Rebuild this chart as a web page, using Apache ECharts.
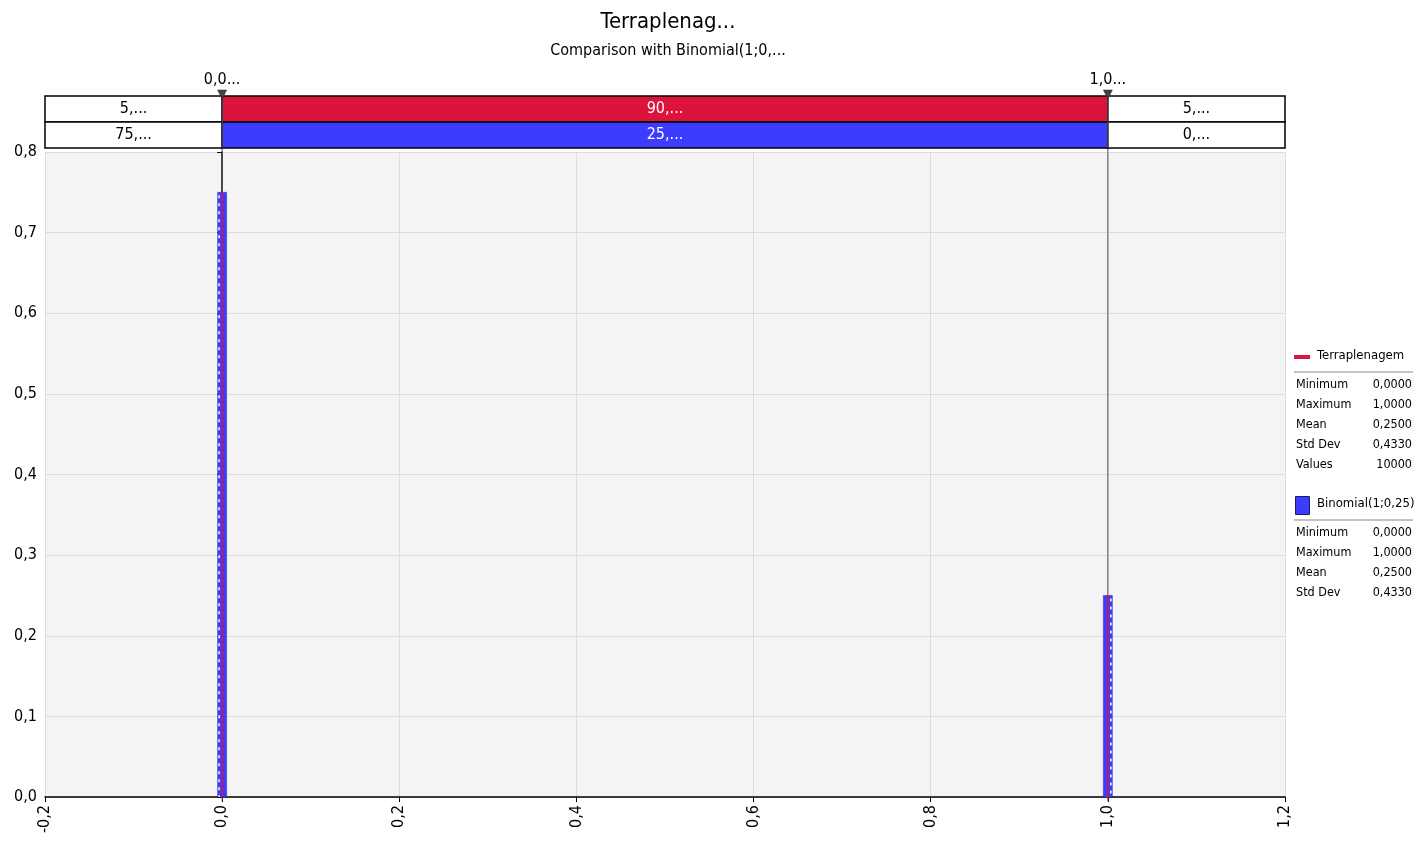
<!DOCTYPE html>
<html>
<head>
<meta charset="utf-8">
<title>Terraplenagem</title>
<script src="https://cdn.jsdelivr.net/npm/echarts@6/dist/echarts.min.js"></script>
<style>
  html, body { margin: 0; padding: 0; background: #fff; }
  #chart { width: 1417px; height: 844px; }
</style>
</head>
<body>
<div id="chart"></div>
<script>
// values
var xValues = [0, 1];
var simValues = [0.75, 0.25];      // Terraplenagem
var binomValues = [0.75, 0.25];    // Binomial(1;0,25)
var delimiters = [0, 1];
var delimiterLabels = ['0,0...', '1,0...'];
var simBandLabels = ['5,...', '90,...', '5,...'];
var binomBandLabels = ['75,...', '25,...', '0,...'];
var statNames = ['Minimum', 'Maximum', 'Mean', 'Std Dev', 'Values'];
var simStats = ['0,0000', '1,0000', '0,2500', '0,4330', '10000'];
var binomStats = ['0,0000', '1,0000', '0,2500', '0,4330'];

var RED = '#dc143c';
var BLUE = '#3c3cff';
var FONT = '"DejaVu Sans Condensed", "DejaVu Sans", sans-serif';
var X_MIN = -0.2, X_MAX = 1.2;

var fmt = function (v) { return (Math.round(v * 10) / 10).toFixed(1).replace('.', ','); };

// band cells: [start, end, row, label, column]
var bandCells = [];
[simBandLabels, binomBandLabels].forEach(function (labels, row) {
    var edges = [X_MIN, delimiters[0], delimiters[1], X_MAX];
    labels.forEach(function (l, i) {
        bandCells.push([edges[i], edges[i + 1], row, l, i]);
    });
});

var chart = echarts.init(document.getElementById('chart'));

function legendBlock(top, name, stats, isLine) {
    var els = [];
    if (isLine) {
        els.push({ type: 'rect', left: 1294, top: top - 2, shape: { width: 16, height: 4 }, style: { fill: RED } });
    } else {
        els.push({ type: 'rect', left: 1295, top: top - 9, shape: { width: 14, height: 18 }, style: { fill: BLUE, stroke: '#1a1a66', lineWidth: 1 } });
    }
    els.push({ type: 'text', left: 1317, top: top - 8, style: { text: name, font: '13px ' + FONT, fill: '#000' } });
    els.push({ type: 'line', shape: { x1: 1294, y1: top + 15, x2: 1413, y2: top + 15 }, style: { stroke: '#888', lineWidth: 1 } });
    stats.forEach(function (s, i) {
        var y = top + 21 + i * 20;
        els.push({ type: 'text', left: 1296, top: y, style: { text: statNames[i], font: '12.5px ' + FONT, fill: '#000' } });
        els.push({ type: 'text', right: 5, top: y, style: { text: s, font: '12.5px ' + FONT, fill: '#000', align: 'right' } });
    });
    return els;
}

var option = {
    animation: false,
    textStyle: { fontFamily: FONT },
    title: {
        text: 'Terraplenag...',
        subtext: 'Comparison with Binomial(1;0,...',
        left: 663,
        textAlign: 'center',
        top: 6,
        itemGap: 10,
        textStyle: { fontSize: 22, fontWeight: 'normal', color: '#000', fontFamily: FONT },
        subtextStyle: { fontSize: 16, color: '#000', fontFamily: FONT }
    },
    grid: [
        { left: 45, right: 132, top: 152, bottom: 47, show: true, backgroundColor: '#f4f4f4', borderWidth: 0 },
        { left: 45, right: 132, top: 96, height: 52 }
    ],
    xAxis: [{
        type: 'value', gridIndex: 0, min: X_MIN, max: X_MAX, interval: 0.2,
        axisLine: { show: true, onZero: false, lineStyle: { color: '#000', width: 1.5 } },
        axisTick: { show: true, length: 5, lineStyle: { color: '#000' } },
        axisLabel: { rotate: 90, fontSize: 16, color: '#000', margin: 8, formatter: fmt },
        splitLine: { show: true, lineStyle: { color: '#dcdcdc' } }
    }, {
        type: 'value', gridIndex: 1, min: X_MIN, max: X_MAX, show: false
    }],
    yAxis: [{
        type: 'value', gridIndex: 0, min: 0, max: 0.8, interval: 0.1,
        axisLine: { show: true, lineStyle: { color: '#000', width: 1.5 } },
        axisTick: { show: true, length: 5, lineStyle: { color: '#000' } },
        axisLabel: { fontSize: 16, color: '#000', margin: 8, formatter: fmt },
        splitLine: { show: true, lineStyle: { color: '#dcdcdc' } }
    }, {
        type: 'category', gridIndex: 1, data: ['sim', 'binom'], inverse: true, show: false
    }],
    graphic: legendBlock(357, 'Terraplenagem', simStats, true)
        .concat(legendBlock(505, 'Binomial(1;0,25)', binomStats, false)),
    series: [{
        name: 'delimiterLines',
        type: 'custom',
        xAxisIndex: 0, yAxisIndex: 0,
        z: 1,
        clip: false,
        data: delimiters.map(function (d) { return [d]; }),
        renderItem: function (params, api) {
            var b = api.coord([api.value(0), 0]);
            var t = api.coord([api.value(0), 0.8]);
            return { type: 'line', shape: { x1: b[0], y1: b[1] + 4, x2: t[0], y2: t[1] - 5 }, style: { stroke: '#555', lineWidth: 1 } };
        }
    }, {
        name: 'Binomial(1;0,25)',
        type: 'custom',
        xAxisIndex: 0, yAxisIndex: 0,
        z: 2,
        data: xValues.map(function (x, i) { return [x, binomValues[i]]; }),
        renderItem: function (params, api) {
            var x = api.value(0), y = api.value(1);
            var p0 = api.coord([x, 0]), p1 = api.coord([x, y]);
            var w = 9;
            var left = p0[0] - w / 2;
            var side = x < 0.5 ? -1 : 1;
            var hx = p0[0] + side * 3;
            return {
                type: 'group',
                children: [
                    { type: 'rect', shape: { x: left, y: p1[1], width: w, height: p0[1] - p1[1] }, style: { fill: BLUE, stroke: '#2a2ab0', lineWidth: 0.5 } },
                    { type: 'line', shape: { x1: hx, y1: p1[1] + 3, x2: hx, y2: p0[1] }, style: { stroke: '#ffffff', lineWidth: 1.5, lineDash: [3, 5] } }
                ]
            };
        }
    }, {
        name: 'Terraplenagem',
        type: 'custom',
        xAxisIndex: 0, yAxisIndex: 0,
        z: 3,
        data: xValues.map(function (x, i) { return [x, simValues[i]]; }),
        renderItem: function (params, api) {
            var p0 = api.coord([api.value(0), 0]), p1 = api.coord([api.value(0), api.value(1)]);
            return { type: 'rect', shape: { x: p0[0] - 0.75, y: p1[1], width: 1.5, height: p0[1] - p1[1] }, style: { fill: RED } };
        }
    }, {
        name: 'bands',
        type: 'custom',
        xAxisIndex: 1, yAxisIndex: 1,
        z: 2,
        data: bandCells,
        renderItem: function (params, api) {
            var row = api.value(2), idx = api.value(4);
            var a = api.coord([api.value(0), row]);
            var b = api.coord([api.value(1), row]);
            var h = api.size([0, 1])[1];
            var mid = idx === 1;
            var fill = mid ? (row === 0 ? RED : BLUE) : '#fff';
            return {
                type: 'rect',
                shape: { x: a[0], y: a[1] - h / 2, width: b[0] - a[0], height: h },
                style: { fill: fill, stroke: '#000', lineWidth: 1.5 },
                textContent: {
                    style: {
                        text: bandCells[params.dataIndex][3],
                        fill: mid ? '#fff' : '#000',
                        font: '16px ' + FONT
                    }
                },
                textConfig: { position: 'inside' }
            };
        }
    }, {
        name: 'delimiterMarks',
        type: 'custom',
        xAxisIndex: 1, yAxisIndex: 1,
        z: 4,
        clip: false,
        data: delimiters.map(function (d, i) { return [d, 0]; }),
        renderItem: function (params, api) {
            var p = api.coord([api.value(0), 0]);
            var h = api.size([0, 1])[1];
            var top = p[1] - h / 2;
            return {
                type: 'group',
                children: [
                    { type: 'line', shape: { x1: p[0], y1: top, x2: p[0], y2: top + 2 * h }, style: { stroke: '#555', lineWidth: 1 } },
                    { type: 'polygon', shape: { points: [[p[0] - 4.5, top - 6], [p[0] + 4.5, top - 6], [p[0], top + 3]] }, style: { fill: '#444', stroke: '#222', lineWidth: 0.5 } },
                    { type: 'text', x: p[0], y: top - 8, style: { text: delimiterLabels[params.dataIndex], font: '16px ' + FONT, fill: '#000', align: 'center', verticalAlign: 'bottom' } }
                ]
            };
        }
    }]
};

chart.setOption(option);
</script>
</body>
</html>
